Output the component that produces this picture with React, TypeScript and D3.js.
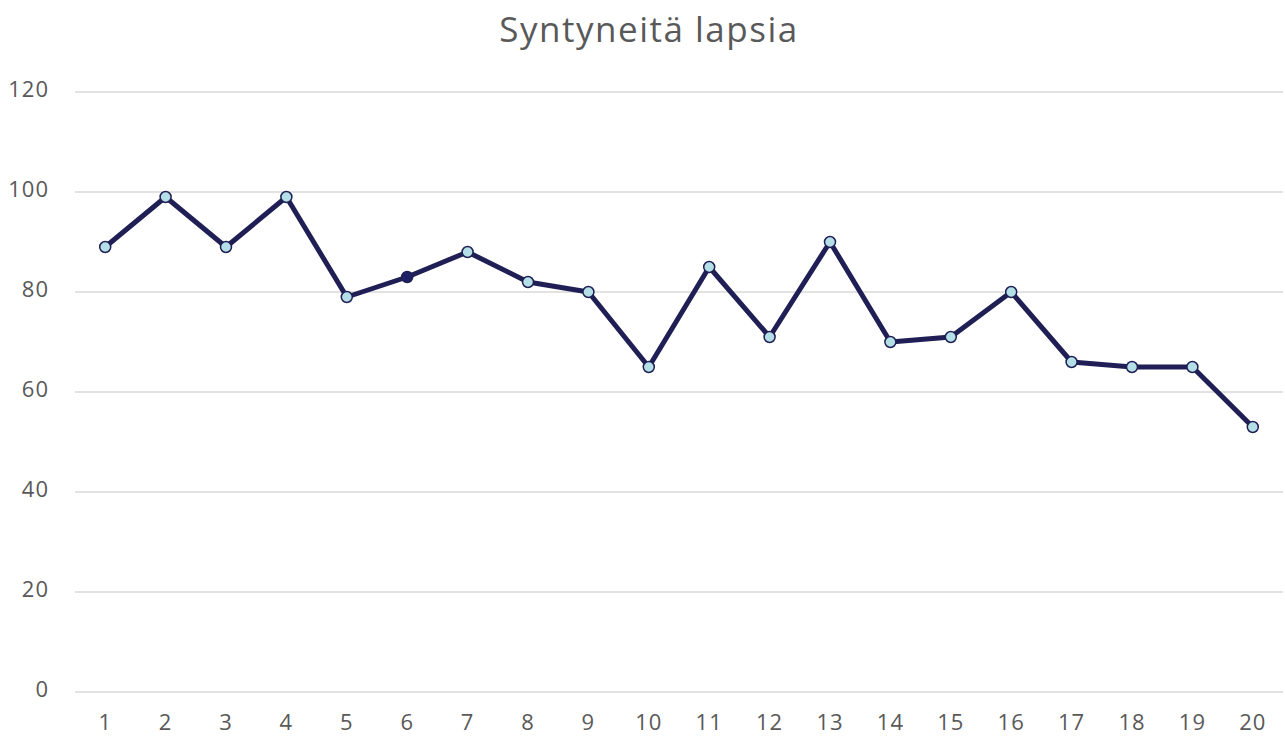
import React, { useEffect, useRef } from "react";
import * as d3 from "d3";

const title = "Syntyneitä lapsia";
const categories = ["1", "2", "3", "4", "5", "6", "7", "8", "9", "10", "11", "12", "13", "14", "15", "16", "17", "18", "19", "20"];
const values = [89, 99, 89, 99, 79, 83, 88, 82, 80, 65, 85, 71, 90, 70, 71, 80, 66, 65, 65, 53];
const highlighted = ["6"];
const yTicks = [0, 20, 40, 60, 80, 100, 120];

export default function App() {
  const svgRef = useRef<SVGSVGElement>(null);
  const width = 1285;
  const height = 738;

  useEffect(() => {
    const svg = d3.select(svgRef.current);
    svg.selectAll("*").remove();

    const left = 75;
    const right = 1283;
    const top = 92;
    const bottom = 692;

    const x = d3.scaleBand().domain(categories).range([left, right]);
    const y = d3.scaleLinear().domain([0, 120]).range([bottom, top]);
    const font = "'Open Sans', Lato, sans-serif";
    const textColor = "#595959";

    svg.append("text")
      .attr("x", 649)
      .attr("y", 42)
      .attr("text-anchor", "middle")
      .attr("font-family", font)
      .attr("font-size", 35)
      .attr("letter-spacing", 1.5)
      .attr("fill", textColor)
      .text(title);

    // gridlines
    svg.append("g")
      .selectAll("line")
      .data(yTicks)
      .join("line")
      .attr("x1", left)
      .attr("x2", right)
      .attr("y1", d => y(d))
      .attr("y2", d => y(d))
      .attr("stroke", "#d9d9d9")
      .attr("stroke-width", 1.5);

    // y labels
    svg.append("g")
      .selectAll("text")
      .data(yTicks)
      .join("text")
      .attr("x", 49)
      .attr("y", d => y(d) + 5)
      .attr("text-anchor", "end")
      .attr("font-family", font)
      .attr("font-size", 22)
      .attr("letter-spacing", 1)
      .attr("fill", textColor)
      .text(d => d);

    // x labels
    svg.append("g")
      .selectAll("text")
      .data(categories)
      .join("text")
      .attr("x", d => x(d)! + x.bandwidth() / 2)
      .attr("y", 730)
      .attr("text-anchor", "middle")
      .attr("font-family", font)
      .attr("font-size", 22)
      .attr("letter-spacing", 1)
      .attr("fill", textColor)
      .text(d => d);

    const cx = (i: number) => x(categories[i])! + x.bandwidth() / 2;

    const lineGen = d3.line<number>()
      .x((_, i) => cx(i))
      .y(d => y(d));

    svg.append("path")
      .datum(values)
      .attr("d", lineGen)
      .attr("fill", "none")
      .attr("stroke", "#1f1f55")
      .attr("stroke-width", 5)
      .attr("stroke-linejoin", "round");

    svg.append("g")
      .selectAll("circle")
      .data(values)
      .join("circle")
      .attr("cx", (_, i) => cx(i))
      .attr("cy", d => y(d))
      .attr("r", 5.5)
      .attr("fill", (_, i) => highlighted.includes(categories[i]) ? "#1f1f66" : "#b4dfe6")
      .attr("stroke", "#1f1f55")
      .attr("stroke-width", 1.5);
  }, []);

  return (
    <svg
      ref={svgRef}
      width={width}
      height={height}
      style={{ position: "absolute", left: 0, top: 0, background: "#fff" }}
    />
  );
}
